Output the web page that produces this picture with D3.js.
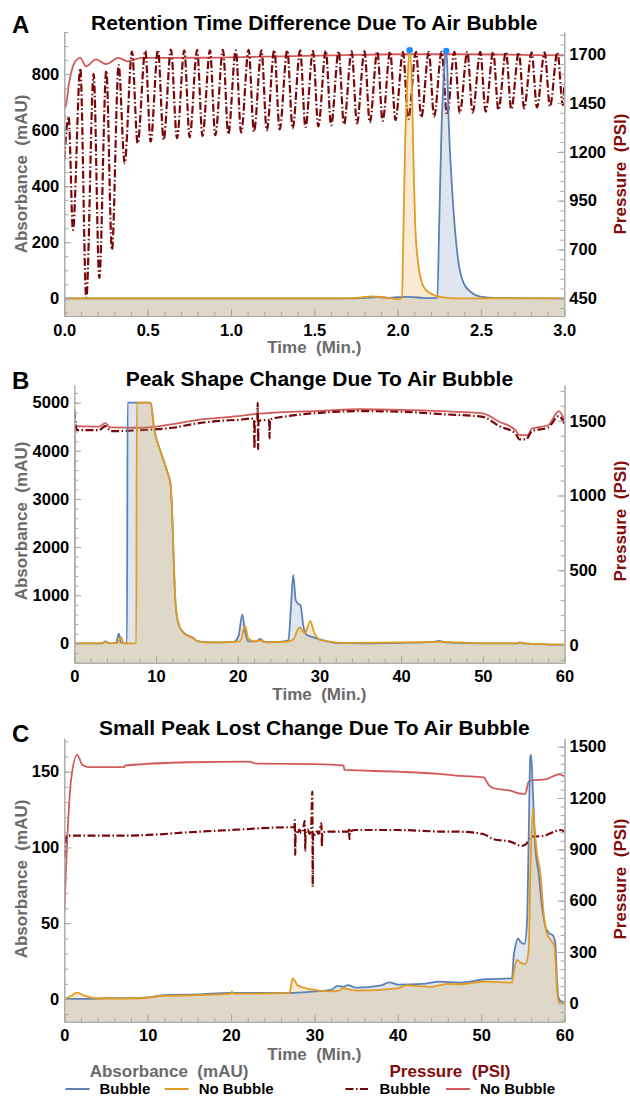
<!DOCTYPE html>
<html>
<head>
<meta charset="utf-8">
<script src="https://cdn.jsdelivr.net/npm/d3@7"></script>
<style>
  body { margin: 0; background: #fff; }
  svg text { font-family: "Liberation Sans", Arial, sans-serif; font-weight: bold; white-space: pre; }
</style>
</head>
<body>
<svg id="chart" width="630" height="1097"></svg>
<script>
// ---- data: [time (min), value] ----

// Panel A — absorbance (mAU)
const aAbsBubble = [[0,0],[1.70,0],[1.80,2],[1.88,4],[1.95,2],[2.00,4],[2.05,5],[2.10,4],[2.15,2],[2.20,1],[2.238,2],
  [2.25,280],[2.264,617],[2.274,761],[2.288,880],[2.296,850],[2.306,637],[2.326,399],[2.346,232],[2.366,125],
  [2.396,54],[2.436,24],[2.496,6],[2.60,1],[3.0,0]];
const aAbsNoBubble = [[0,0],[1.70,0],[1.78,3],[1.84,7],[1.90,5],[1.95,1],[2.00,-2],[2.026,0],[2.032,160],[2.046,577],
  [2.06,786],[2.072,885],[2.086,756],[2.096,458],[2.106,256],[2.126,113],[2.156,41],[2.196,18],[2.236,8],[2.30,2],
  [2.40,0],[3.0,0]];
const aPeakMarks = [[2.072,885],[2.292,882]];

// Panel A — pressure (PSI)
const aPresBubble = [[0.000,1163],[0.026,1380],[0.052,800],[0.096,1628],[0.132,453],[0.176,1599],[0.210,554],
  [0.252,1616],[0.286,697],[0.326,1645],[0.362,1142],[0.406,1713],[0.440,1244],[0.486,1718],[0.518,1252],
  [0.562,1722],[0.596,1261],[0.640,1724],[0.676,1270],[0.720,1720],[0.752,1275],[0.797,1722],[0.829,1281],
  [0.874,1720],[0.906,1285],[0.952,1722],[0.984,1290],[1.029,1720],[1.061,1298],[1.106,1722],[1.138,1304],
  [1.183,1720],[1.215,1310],[1.260,1722],[1.292,1315],[1.338,1720],[1.370,1320],[1.415,1720],[1.447,1326],
  [1.492,1718],[1.524,1330],[1.569,1718],[1.601,1336],[1.646,1716],[1.678,1341],[1.724,1716],[1.756,1346],
  [1.801,1716],[1.833,1351],[1.878,1714],[1.910,1358],[1.955,1714],[1.987,1363],[2.032,1712],[2.064,1367],
  [2.110,1712],[2.142,1377],[2.187,1712],[2.219,1380],[2.264,1712],[2.296,1389],[2.341,1712],[2.373,1398],
  [2.418,1712],[2.450,1401],[2.496,1712],[2.528,1406],[2.573,1712],[2.605,1415],[2.650,1712],[2.682,1418],
  [2.727,1710],[2.759,1423],[2.804,1710],[2.836,1428],[2.882,1710],[2.914,1432],[2.959,1710],[2.991,1440],
  [3.000,1540]];
const aPresNoBubble = [[0,1527],[0.005,1424],[0.03,1560],[0.06,1655],[0.096,1681],[0.13,1638],[0.19,1674],
  [0.25,1650],[0.326,1681],[0.38,1664],[0.46,1681],[0.8,1682],[1.2,1688],[1.6,1694],[2.0,1700],[2.4,1700],
  [2.8,1696],[3.0,1694]];

// Panel B — absorbance (mAU)
const bAbsBubble = [[0,0],[3.4,0],[3.8,40],[4.3,5],[5.1,5],[5.47,200],[5.7,20],[6.45,0],[6.52,5000],[9.35,5000],
  [9.76,4468],[10.57,3982],[11.38,3566],[11.79,3290],[12.0,2598],[12.2,1559],[12.4,796],[12.8,380],[13.4,220],
  [14.2,140],[14.6,110],[15.0,50],[16,25],[18,20],[19.5,30],[20.1,150],[20.56,603],[20.9,250],[21.3,40],[22.2,40],
  [22.8,90],[23.2,30],[25.0,30],[26.2,60],[26.5,700],[26.8,1420],[27.1,900],[27.4,820],[27.7,790],[28.0,400],
  [28.4,180],[29,140],[30,80],[31,40],[32,10],[35,0],[40,10],[44,30],[44.7,50],[45.3,20],[50,0],[54.3,0],
  [54.5,20],[55,0],[60,-30]];
const bAbsNoBubble = [[0,0],[3.4,0],[3.8,30],[4.3,5],[5.3,5],[5.75,130],[6.0,0],[7.58,0],[7.65,5000],[9.35,5000],
  [9.76,4468],[10.57,3982],[11.38,3566],[11.79,3290],[12.0,2598],[12.2,1559],[12.4,796],[12.8,380],[13.4,208],
  [14.2,137],[14.6,100],[15.0,48],[16,20],[18,20],[20.3,40],[20.9,360],[21.3,100],[22,40],[23,60],[23.5,20],
  [25.5,30],[26.3,40],[26.8,80],[27.55,333],[28.2,210],[28.9,463],[29.3,250],[30,80],[31,40],[33,10],[40,20],
  [45,30],[50,0],[54.3,0],[54.5,20],[55,0],[60,-30]];

// Panel B — pressure (PSI)
const bPresBubble = [[0,1571],[0.3,1437],[3.0,1437],[3.8,1464],[4.5,1430],[8,1437],[12,1453],[15,1482],[18,1500],
  [20,1506],[21.9,1515],[22.0,1510],[22.05,1315],[22.1,1500],[22.4,1505],[22.45,1620],[22.5,1310],[22.55,1500],
  [23.85,1505],[23.9,1382],[23.95,1508],[26,1530],[30,1553],[35,1564],[40,1560],[45,1544],[50,1526],[52,1464],
  [54,1415],[54.5,1375],[55.3,1375],[56,1430],[58,1455],[59.3,1531],[60,1482]];
const bPresNoBubble = [[0,0],[0.05,1464],[3.0,1460],[3.8,1484],[4.4,1455],[8,1453],[12,1477],[15,1504],[20,1531],
  [22,1544],[25,1556],[30,1566],[35,1577],[40,1573],[45,1564],[50,1549],[52,1493],[54,1437],[54.5,1404],
  [55.5,1404],[56,1448],[58,1470],[59.3,1564],[60,1504]];

// Panel C — absorbance (mAU)
const cAbsBubble = [[0,0],[3,0],[5,0.5],[8,0.5],[10,1],[12,2.5],[16,3],[20,4],[27,4],[30,5],[32,6],[32.8,8.6],
  [33.5,8],[34,9.2],[35,7.5],[38,9],[39,11],[40,9.5],[43,10],[45,11.4],[47.5,10.8],[50.5,13],[53.7,13.6],
  [53.9,27.9],[54.1,34.5],[54.4,40],[54.7,37.8],[55.2,36.3],[55.5,50],[55.7,105],[55.9,160],[56.0,161],
  [56.2,138],[56.5,100],[56.9,83],[57.3,61],[57.7,48],[58.1,43.7],[58.6,42],[58.9,36.7],[59.1,12.5],[59.3,0.5],
  [59.7,-1.8],[60,-1.8]];
const cAbsNoBubble = [[0,0],[0.8,2],[1.5,4.2],[2.5,2],[4,0.3],[8,0.3],[10,0.8],[12,2],[16,2.5],[20,3.5],[20.1,5],
  [20.3,3.5],[27,4],[27.4,13.6],[28,9],[29,7],[30,6],[32,5],[33,5.5],[33.3,7],[35,5.5],[40,7],[41,9],[44,8],
  [45,9],[46,10],[47.5,9.7],[50.5,11.4],[53.7,10.8],[53.9,17],[54.3,25.7],[54.7,24],[55.3,23],[55.7,32],
  [55.9,83],[56.2,125.8],[56.4,113.7],[56.7,96],[57.1,83],[57.5,56.5],[57.9,43],[58.5,37.8],[58.8,34.5],
  [59.1,6],[59.3,-1.8],[60,-3]];

// Panel C — pressure (PSI)
const cPresBubble = [[0,850],[0.25,980],[7,980],[10,984],[15,1000],[20,1013],[27,1029],[27.6,1029],[27.65,1071],
  [27.7,867],[27.75,1010],[28.0,1000],[28.2,1015],[28.4,995],[28.6,1010],[28.85,1067],[28.9,892],[28.95,1000],
  [29.2,1015],[29.4,990],[29.6,1010],[29.75,1237],[29.8,682],[29.85,1000],[30.1,985],[30.3,1005],[30.5,990],
  [30.85,1052],[30.9,915],[30.95,995],[31.5,1004],[34.1,1004],[34.15,1023],[34.2,959],[34.25,1004],[35,1013],
  [40,1013],[45,1004],[47.5,1003],[50.3,988],[51.5,959],[53.5,945],[54.9,920],[55.5,936],[55.9,974],[57.5,978],
  [58.3,994],[59.5,1013],[60,1004]];
const cPresNoBubble = [[0,526],[0.3,900],[0.8,1300],[1.54,1452],[2.18,1393],[3,1380],[7.2,1380],[7.3,1390],
  [15,1409],[22.2,1413],[23,1401],[30,1398],[33.5,1390],[33.6,1364],[40,1354],[45,1341],[47.5,1329],[50.3,1321],
  [50.9,1277],[51.5,1257],[53.5,1243],[54.9,1224],[55.3,1224],[55.7,1296],[56,1302],[57.8,1310],[59.4,1339],
  [60,1325]];

// tick labels
const aTimeTicks = [0, 0.5, 1.0, 1.5, 2.0, 2.5, 3.0];
const aAbsTicks = [0, 200, 400, 600, 800];
const aPresTicks = [450, 700, 950, 1200, 1450, 1700];
const bcTimeTicks = [0, 10, 20, 30, 40, 50, 60];
const bAbsTicks = [0, 1000, 2000, 3000, 4000, 5000];
const bPresTicks = [0, 500, 1000, 1500];
const cAbsTicks = [0, 50, 100, 150];
const cPresTicks = [0, 300, 600, 900, 1200, 1500];

// colours
const blue = "#5e81b5", orange = "#e19c24", darkRed = "#7a0707", lightRed = "#d35a5a";
const grayText = "#6a6a6a", axisGray = "#a8a8a8", labelRed = "#840c0c";
const dotDash = "8,2.5,1.5,2.5";

const panels = [
  { letter: "A", title: "Retention Time Difference Due To Air Bubble",
    left: 64.3, right: 564.3, top: 32, bottom: 316,
    xDomain: [0, 3], yLDomain: [-63, 950], yRDomain: [359, 1814],
    xTicks: aTimeTicks, xMinor: 0.1, xFmt: d3.format(".1f"),
    yLTicks: aAbsTicks, yLMinor: 50, yRTicks: aPresTicks, yRMinor: 50,
    absB: aAbsBubble, absN: aAbsNoBubble, presB: aPresBubble, presN: aPresNoBubble, marks: aPeakMarks,
    titleY: 30, letterY: 33, xLabelY: 347, yLabelY: 174 },
  { letter: "B", title: "Peak Shape Change Due To Air Bubble",
    left: 74.3, right: 564.5, top: 385, bottom: 662.7,
    xDomain: [0, 60], yLDomain: [-403, 5368], yRDomain: [-118, 1739],
    xTicks: bcTimeTicks, xMinor: 2, xFmt: d3.format("d"),
    yLTicks: bAbsTicks, yLMinor: 200, yRTicks: bPresTicks, yRMinor: 100,
    absB: bAbsBubble, absN: bAbsNoBubble, presB: bPresBubble, presN: bPresNoBubble, marks: [],
    titleY: 386, letterY: 389, xLabelY: 694, yLabelY: 521 },
  { letter: "C", title: "Small Peak Lost Change Due To Air Bubble",
    left: 64.3, right: 564.5, top: 738.3, bottom: 1021.7,
    xDomain: [0, 60], yLDomain: [-15, 172], yRDomain: [-107.5, 1549],
    xTicks: bcTimeTicks, xMinor: 2, xFmt: d3.format("d"),
    yLTicks: cAbsTicks, yLMinor: 10, yRTicks: cPresTicks, yRMinor: 50,
    absB: cAbsBubble, absN: cAbsNoBubble, presB: cPresBubble, presN: cPresNoBubble, marks: [],
    titleY: 735, letterY: 742, xLabelY: 1054, yLabelY: 879 }
];

const svg = d3.select("#chart");
const intFmt = d3.format("d");

function minorVals(domain, step) {
  const lo = Math.ceil(domain[0] / step - 1e-9), hi = Math.floor(domain[1] / step + 1e-9);
  return d3.range(lo, hi + 1).map(k => +(k * step).toFixed(6));
}

function styleAxis(g) {
  g.attr("color", axisGray);
  g.selectAll("text").attr("fill", "#000").attr("font-size", 16.5)
    .attr("font-family", "Liberation Sans, Arial, sans-serif").attr("font-weight", "bold");
  g.selectAll("path.domain").attr("stroke-width", 1);
}

function drawPanel(p, i) {
  const x = d3.scaleLinear().domain(p.xDomain).range([p.left, p.right]);
  const yL = d3.scaleLinear().domain(p.yLDomain).range([p.bottom, p.top]);
  const yR = d3.scaleLinear().domain(p.yRDomain).range([p.bottom, p.top]);
  const g = svg.append("g");
  const clipId = "clip" + i;
  g.append("clipPath").attr("id", clipId).append("rect")
    .attr("x", p.left).attr("y", p.top).attr("width", p.right - p.left).attr("height", p.bottom - p.top);

  const plot = g.append("g").attr("clip-path", `url(#${clipId})`);

  // pressure traces
  const presLine = d3.line().x(d => x(d[0])).y(d => yR(d[1])).curve(d3.curveMonotoneX);
  plot.append("path").datum(p.presN).attr("d", presLine)
    .attr("fill", "none").attr("stroke", lightRed).attr("stroke-width", 1.8);
  plot.append("path").datum(p.presB).attr("d", presLine)
    .attr("fill", "none").attr("stroke", darkRed).attr("stroke-width", 2.2)
    .attr("stroke-dasharray", dotDash);

  // absorbance fills (to bottom) and lines
  const area = d3.area().x(d => x(d[0])).y0(yL.range()[0]).y1(d => yL(d[1])).curve(d3.curveMonotoneX);
  const absLine = d3.line().x(d => x(d[0])).y(d => yL(d[1])).curve(d3.curveMonotoneX);
  plot.append("path").datum(p.absB).attr("d", area).attr("fill", blue).attr("fill-opacity", 0.2);
  plot.append("path").datum(p.absN).attr("d", area).attr("fill", orange).attr("fill-opacity", 0.2);
  plot.append("path").datum(p.absB).attr("d", absLine)
    .attr("fill", "none").attr("stroke", blue).attr("stroke-width", 1.8);
  plot.append("path").datum(p.absN).attr("d", absLine)
    .attr("fill", "none").attr("stroke", orange).attr("stroke-width", 1.8);

  g.selectAll(".peak").data(p.marks).join("circle").attr("class", "peak")
    .attr("cx", d => x(d[0])).attr("cy", d => yL(d[1])).attr("r", 3.2).attr("fill", "#1a8cff");

  // axes (ticks point inward)
  g.append("g").attr("transform", `translate(${p.left},0)`)
    .call(d3.axisLeft(yL).tickValues(minorVals(p.yLDomain, p.yLMinor)).tickSize(-4).tickSizeOuter(0).tickFormat(""))
    .call(styleAxis);
  g.append("g").attr("transform", `translate(${p.left},0)`)
    .call(d3.axisLeft(yL).tickValues(p.yLTicks).tickSize(-7).tickSizeOuter(0).tickPadding(5).tickFormat(intFmt))
    .call(styleAxis);
  g.append("g").attr("transform", `translate(${p.right},0)`)
    .call(d3.axisRight(yR).tickValues(minorVals(p.yRDomain, p.yRMinor)).tickSize(-4).tickSizeOuter(0).tickFormat(""))
    .call(styleAxis);
  g.append("g").attr("transform", `translate(${p.right},0)`)
    .call(d3.axisRight(yR).tickValues(p.yRTicks).tickSize(-7).tickSizeOuter(0).tickPadding(5).tickFormat(intFmt))
    .call(styleAxis);
  g.append("g").attr("transform", `translate(0,${p.bottom})`)
    .call(d3.axisBottom(x).tickValues(minorVals(p.xDomain, p.xMinor)).tickSize(-4).tickSizeOuter(0).tickFormat(""))
    .call(styleAxis);
  g.append("g").attr("transform", `translate(0,${p.bottom})`)
    .call(d3.axisBottom(x).tickValues(p.xTicks).tickSize(-7).tickSizeOuter(0).tickPadding(8).tickFormat(p.xFmt))
    .call(styleAxis);

  // texts
  const cx = (p.left + p.right) / 2;
  g.append("text").attr("x", 12).attr("y", p.letterY).attr("font-size", 24).attr("fill", "#000").text(p.letter);
  g.append("text").attr("x", cx).attr("y", p.titleY).attr("text-anchor", "middle")
    .attr("font-size", 21).attr("fill", "#000").text(p.title);
  g.append("text").attr("x", cx).attr("y", p.xLabelY).attr("dy", "0.35em").attr("text-anchor", "middle")
    .attr("font-size", 17).attr("fill", grayText).text("Time  (Min.)");
  g.append("text").attr("transform", `translate(21,${p.yLabelY}) rotate(-90)`).attr("dy", "0.35em")
    .attr("text-anchor", "middle").attr("font-size", 17).attr("fill", grayText).text("Absorbance  (mAU)");
  g.append("text").attr("transform", `translate(620,${p.yLabelY}) rotate(-90)`).attr("dy", "0.35em")
    .attr("text-anchor", "middle").attr("font-size", 17).attr("fill", labelRed).text("Pressure  (PSI)");
}

panels.forEach(drawPanel);

// legend
const legendGroups = [
  { title: "Absorbance  (mAU)", color: grayText, cx: 169 },
  { title: "Pressure  (PSI)", color: labelRed, cx: 450 }
];
const legendItems = [
  { label: "Bubble", stroke: blue, dash: null, x0: 65.5 },
  { label: "No Bubble", stroke: orange, dash: null, x0: 164.7 },
  { label: "Bubble", stroke: darkRed, dash: dotDash, x0: 345.5 },
  { label: "No Bubble", stroke: lightRed, dash: null, x0: 446 }
];
const lg = svg.append("g");
lg.selectAll("text.lgTitle").data(legendGroups).join("text").attr("class", "lgTitle")
  .attr("x", d => d.cx).attr("y", 1071).attr("dy", "0.35em").attr("text-anchor", "middle")
  .attr("font-size", 17).attr("fill", d => d.color).text(d => d.title);
const li = lg.selectAll("g.item").data(legendItems).join("g").attr("class", "item");
li.append("line").attr("x1", d => d.x0).attr("x2", d => d.x0 + 24).attr("y1", 1089).attr("y2", 1089)
  .attr("stroke", d => d.stroke).attr("stroke-width", 2).attr("stroke-dasharray", d => d.dash);
li.append("text").attr("x", d => d.x0 + 34).attr("y", 1089).attr("dy", "0.35em")
  .attr("font-size", 15).attr("fill", "#000").text(d => d.label);
</script>
</body>
</html>
